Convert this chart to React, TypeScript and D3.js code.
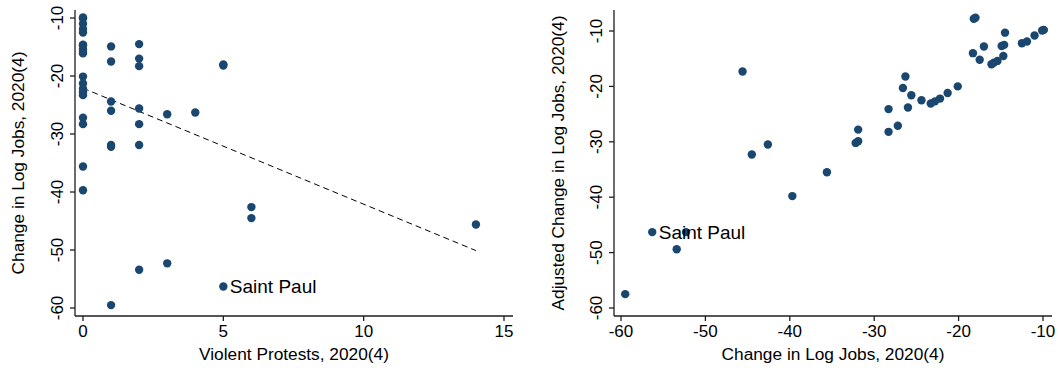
import React from "react";
import * as d3 from "d3";

// Data: one entry per city
const protests = [1, 5, 2, 3, 14, 6, 6, 0, 0, 1, 1, 2, 0, 2, 0, 3, 4, 1, 2, 1, 0, 0, 0, 0, 0, 2, 5, 5, 1, 2, 0, 0, 0, 1, 0, 0, 2, 0, 0, 0, 0, 0];
const change = [-59.5, -56.3, -53.4, -52.3, -45.6, -44.5, -42.6, -39.7, -35.6, -32.2, -31.9, -31.9, -28.3, -28.3, -27.2, -26.6, -26.3, -26.0, -25.6, -24.4, -23.3, -22.8, -22.2, -21.3, -20.1, -18.3, -18.2, -18.0, -17.5, -17.0, -16.1, -15.8, -15.4, -14.9, -14.7, -14.6, -14.5, -12.5, -11.9, -11.0, -10.1, -9.9];
const adjusted = [-57.5, -46.3, -49.4, -46.3, -17.3, -32.3, -30.5, -39.8, -35.5, -30.2, -29.9, -27.8, -24.1, -28.2, -27.1, -20.3, -18.2, -23.8, -21.6, -22.5, -23.1, -22.7, -22.2, -21.2, -20.0, -14.0, -7.8, -7.6, -15.2, -12.8, -16.0, -15.7, -15.4, -12.7, -14.5, -12.5, -10.3, -12.2, -11.9, -10.8, -9.9, -9.8];
const labels = ["", "Saint Paul"];
const fitX = [0, 14];
const fitY = [-22.1, -50.1];

const leftXTicks = [0, 5, 10, 15];
const leftYTicks = [-10, -20, -30, -40, -50, -60];
const rightXTicks = [-60, -50, -40, -30, -20, -10];
const rightYTicks = [-10, -20, -30, -40, -50, -60];

const NAVY = "#1a476f";
const AXIS = "#1e1e1e";
const FONT = "'Liberation Sans', Arial, sans-serif";
const TICK_FS = 17;
const TITLE_FS = 17.3;
const LABEL_FS = 19;

type PanelProps = {
  xs: number[];
  ys: number[];
  xScale: d3.ScaleLinear<number, number>;
  yScale: d3.ScaleLinear<number, number>;
  xTicks: number[];
  yTicks: number[];
  left: number;
  right: number;
  top: number;
  bottom: number;
  xTitle: string;
  yTitle: string;
  yTitleX: number;
  fit?: boolean;
};

function Panel(p: PanelProps) {
  const { xScale, yScale } = p;
  const fitLine = d3
    .line<number>()
    .x((d, i) => xScale(fitX[i]))
    .y((d) => yScale(d));
  return (
    <g fontFamily={FONT}>
      {p.fit && (
        <path d={fitLine(fitY) || ""} fill="none" stroke="#000" strokeWidth={1} strokeDasharray="6,4" />
      )}
      {p.xs.map((x, i) => (
        <circle key={i} cx={xScale(x)} cy={yScale(p.ys[i])} r={4.2} fill={NAVY} />
      ))}
      {p.xs.map((x, i) =>
        labels[i] ? (
          <text
            key={"l" + i}
            x={xScale(x) + 6.5}
            y={yScale(p.ys[i])}
            dy="0.35em"
            fontSize={LABEL_FS}
            fill="#000"
          >
            {labels[i]}
          </text>
        ) : null
      )}
      {/* axes */}
      <line x1={p.left} x2={p.left} y1={p.top} y2={p.bottom} stroke={AXIS} strokeWidth={1.3} />
      <line x1={p.left} x2={p.right} y1={p.bottom} y2={p.bottom} stroke={AXIS} strokeWidth={1.3} />
      {p.xTicks.map((t) => (
        <g key={"x" + t}>
          <line x1={xScale(t)} x2={xScale(t)} y1={p.bottom} y2={p.bottom + 5} stroke={AXIS} strokeWidth={1.3} />
          <text x={xScale(t)} y={p.bottom + 21} textAnchor="middle" fontSize={TICK_FS} fill="#000">
            {t}
          </text>
        </g>
      ))}
      {p.yTicks.map((t) => (
        <g key={"y" + t}>
          <line x1={p.left - 5} x2={p.left} y1={yScale(t)} y2={yScale(t)} stroke={AXIS} strokeWidth={1.3} />
          <text
            transform={`translate(${p.left - 12},${yScale(t)}) rotate(-90)`}
            textAnchor="middle"
            fontSize={TICK_FS}
            fill="#000"
          >
            {t}
          </text>
        </g>
      ))}
      <text
        x={(p.left + p.right) / 2}
        y={p.bottom + 44}
        textAnchor="middle"
        fontSize={TITLE_FS}
        fill="#000"
      >
        {p.xTitle}
      </text>
      <text
        transform={`translate(${p.yTitleX},${(p.top + p.bottom) / 2}) rotate(-90)`}
        textAnchor="middle"
        dy="0.35em"
        fontSize={TITLE_FS}
        fill="#000"
      >
        {p.yTitle}
      </text>
    </g>
  );
}

export default function App() {
  const lx = d3.scaleLinear().domain([0, 15]).range([83, 504]);
  const ly = d3.scaleLinear().domain([-10, -60]).range([18, 308]);
  const rx = d3.scaleLinear().domain([-60, -10]).range([621, 1043]);
  const ry = d3.scaleLinear().domain([-10, -60]).range([31, 308]);
  return (
    <svg
      width={1059}
      height={371}
      style={{ position: "absolute", left: 0, top: 0, background: "#fff" }}
    >
      <rect width={1059} height={371} fill="#fff" />
      <Panel
        xs={protests}
        ys={change}
        xScale={lx}
        yScale={ly}
        xTicks={leftXTicks}
        yTicks={leftYTicks}
        left={75}
        right={513}
        top={10}
        bottom={316}
        xTitle="Violent Protests, 2020(4)"
        yTitle="Change in Log Jobs, 2020(4)"
        yTitleX={18}
        fit
      />
      <Panel
        xs={change}
        ys={adjusted}
        xScale={rx}
        yScale={ry}
        xTicks={rightXTicks}
        yTicks={rightYTicks}
        left={614}
        right={1052}
        top={10}
        bottom={316}
        xTitle="Change in Log Jobs, 2020(4)"
        yTitle="Adjusted Change in Log Jobs, 2020(4)"
        yTitleX={558}
      />
    </svg>
  );
}
